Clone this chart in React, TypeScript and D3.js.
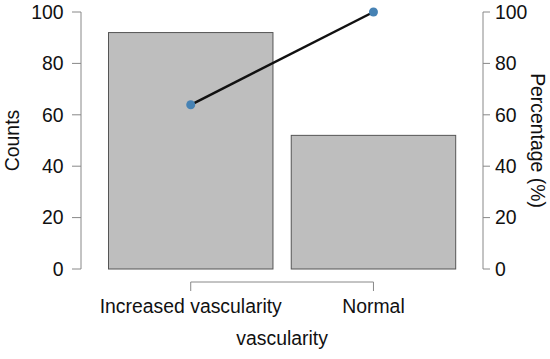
import React from "react";
import * as d3 from "d3";

const categories = ["Increased vascularity", "Normal"];
const counts = [92, 52];
const cumPercent = [63.9, 100];
const leftTicks = [0, 20, 40, 60, 80, 100];
const rightTicks = [0, 20, 40, 60, 80, 100];

export default function App() {
  const W = 550, H = 359;
  const font = "'Liberation Sans', Arial, sans-serif";
  const fs = 19.4;
  const y = d3.scaleLinear().domain([0, 100]).range([269, 12]);
  const yr = d3.scaleLinear().domain([0, 100]).range([269, 12]);
  const x = d3.scaleBand<string>().domain(categories).range([108.5, 455.7]).paddingInner(0.1).paddingOuter(0);
  const cx = (c: string) => (x(c) as number) + x.bandwidth() / 2;
  const line = d3.line<number>().x((_, i) => cx(categories[i])).y((d) => yr(d));
  const axisL = 81, axisR = 483, axisY = 282;
  const first = cx(categories[0]), last = cx(categories[categories.length - 1]);
  return (
    <svg width={W} height={H} style={{ position: "absolute", left: 0, top: 0 }} fontFamily={font}>
      <rect width={W} height={H} fill="#fff" />
      {categories.map((c, i) => (
        <rect key={c} x={x(c)} y={y(counts[i])} width={x.bandwidth()} height={y(0) - y(counts[i])}
          fill="#bebebe" stroke="#555" strokeWidth={1} />
      ))}
      <line x1={axisL} x2={axisL} y1={y(0)} y2={y(100)} stroke="#888" />
      {leftTicks.map((t) => (
        <g key={"l" + t}>
          <line x1={axisL - 9} x2={axisL} y1={y(t)} y2={y(t)} stroke="#888" />
          <text x={axisL - 17.5} y={y(t)} dy="0.35em" textAnchor="end" fontSize={fs} fill="#111">{t}</text>
        </g>
      ))}
      <line x1={axisR} x2={axisR} y1={yr(0)} y2={yr(100)} stroke="#888" />
      {rightTicks.map((t) => (
        <g key={"r" + t}>
          <line x1={axisR} x2={axisR + 7} y1={yr(t)} y2={yr(t)} stroke="#888" />
          <text x={axisR + 12} y={yr(t)} dy="0.35em" textAnchor="start" fontSize={fs} fill="#111">{t}</text>
        </g>
      ))}
      <line x1={first} x2={last} y1={axisY} y2={axisY} stroke="#888" />
      {categories.map((c) => (
        <g key={"x" + c}>
          <line x1={cx(c)} x2={cx(c)} y1={axisY} y2={axisY + 9} stroke="#888" />
          <text x={cx(c)} y={313} textAnchor="middle" fontSize={fs} fill="#111">{c}</text>
        </g>
      ))}
      <text x={(first + last) / 2} y={345} textAnchor="middle" fontSize={fs} fill="#111">vascularity</text>
      <text transform={`translate(18.5,${(y(0) + y(100)) / 2}) rotate(-90)`} textAnchor="middle" fontSize={fs} fill="#111">Counts</text>
      <text transform={`translate(531,${(y(0) + y(100)) / 2}) rotate(90)`} textAnchor="middle" fontSize={fs} fill="#111">Percentage (%)</text>
      <path d={line(cumPercent) || ""} fill="none" stroke="#111" strokeWidth={2.5} />
      {cumPercent.map((p, i) => (
        <circle key={"p" + i} cx={cx(categories[i])} cy={yr(p)} r={4.5} fill="#4682b4" />
      ))}
    </svg>
  );
}
